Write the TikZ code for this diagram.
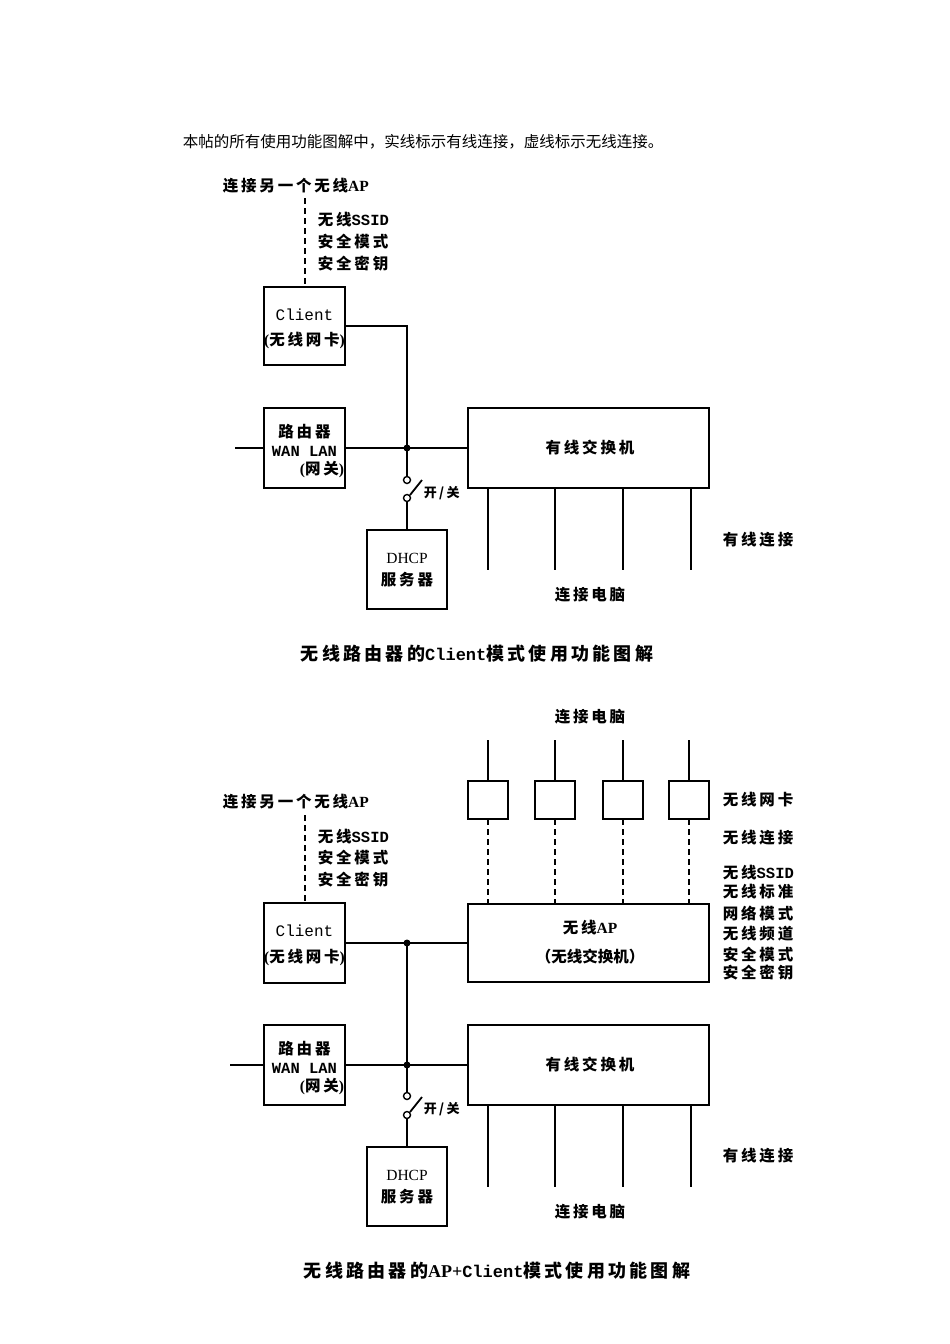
\documentclass[tikz,border=0pt]{standalone}
\usepackage{fontspec}
\newfontfamily\cjk[LetterSpace=18]{Noto Sans CJK SC}
\newfontfamily\cjkh{Noto Sans CJK SC}
\newfontfamily\mono{Liberation Mono}
\newfontfamily\tms{Liberation Serif}
\begin{document}
\begin{tikzpicture}[x=1pt,y=-1pt,line width=1.8pt,
  lbl/.style={inner sep=0pt, font=\cjk\bfseries\fontsize{15.5}{18}\selectfont},
  bx/.style={draw, inner sep=0pt, outer sep=0pt, line width=1.8pt},
  wl/.style={dash pattern=on 6pt off 4pt},
  dot/.style={circle, fill, inner sep=0pt, minimum size=7pt},
  sw/.style={circle, draw, inner sep=0pt, minimum size=7pt, line width=1.4pt}]
\useasboundingbox (0,0) rectangle (950,1344);
\fill[white] (0,0) rectangle (950,1344);

% header
\node[anchor=west, inner sep=0pt, font=\cjkh\fontsize{15.5}{18}\selectfont] (hdr) at (182,142) {本帖的所有使用功能图解中，实线标示有线连接，虚线标示无线连接。};

%================ top diagram ================
\node[lbl, anchor=west] (t1ap) at (222,186) {连接另一个无线{\tms\bfseries AP}};
\coordinate (t1d) at (305,198);
\node[lbl, anchor=west] (t1s1) at (317,220) {无线{\mono\bfseries SSID}};
\node[lbl, anchor=west] (t1s2) at (317,242) {安全模式};
\node[lbl, anchor=west] (t1s3) at (317,264) {安全密钥};

\node[bx, minimum width=81pt, minimum height=78pt] (t1cl) at (304.5,326) {};
\node[lbl] (t1clt) at (304.5,315) {\mono\mdseries\fontsize{16}{18}\selectfont Client};
\node[lbl] (t1clt2) at (304.5,340) {{\tms\bfseries (}无线网卡{\tms\bfseries )}};
\draw[wl] (t1d) -- (t1d |- t1cl.north);

\node[bx, minimum width=81pt, minimum height=80pt] (t1r) at (304.5,448) {};
\node[lbl] (t1rt1) at (304.5,432) {路由器};
\node[lbl] (t1rt2) at (304.5,451) {\mono\bfseries WAN LAN};
\node[lbl, anchor=east] (t1rt3) at (345,470) {{\tms\bfseries (}网关{\tms\bfseries )}};
\coordinate (t1w) at (235,448);

\node[bx, minimum width=241pt, minimum height=80pt] (t1sw) at (588.5,448) {};
\node[lbl] (t1swt) at (590,448) {有线交换机};

\node[dot] (t1j) at (407,448) {};
\node[sw] (t1c1) at (407,480) {};
\node[sw] (t1c2) at (407,498) {};
\coordinate (t1k) at (422,480);
\node[lbl, anchor=west, font=\cjk\bfseries\fontsize{13}{15}\selectfont] (t1kt) at (423,493) {开/关};

\node[bx, minimum width=80pt, minimum height=79pt] (t1dh) at (407,569.5) {};
\node[lbl] (t1dht1) at (407,558) {\tms\mdseries DHCP};
\node[lbl] (t1dht2) at (407,580) {服务器};

\draw (t1cl.east) -| (t1j.center);
\draw (t1w) -- (t1r.west);
\draw (t1r.east) -- (t1sw.west);
\draw (t1j.center) -- (t1c1.north);
\draw (t1c2.south) -- (t1dh.north);
\draw (t1c2.north east) -- (t1k);

\foreach \x [count=\i] in {488,555,623,691} {
  \coordinate (t1p\i) at (\x,570);
  \draw (t1p\i |- t1sw.south) -- (t1p\i);
}
\node[lbl, anchor=west] (t1wired) at (722,540) {有线连接};
\node[lbl] (t1pc) at (590,595) {连接电脑};

\node[lbl, font=\cjk\bfseries\fontsize{18}{20}\selectfont] (t1cap) at (477,654) {无线路由器的{\mono\bfseries\fontsize{17}{20}\selectfont Client}模式使用功能图解};

%================ bottom diagram ================
\node[lbl] (b1pc) at (590,717) {连接电脑};
\foreach \x [count=\i] in {488,555,623,689} {
  \node[bx, minimum width=40pt, minimum height=38pt] (b1n\i) at (\x,800) {};
  \coordinate (b1q\i) at (\x,740);
  \draw (b1q\i) -- (b1n\i.north);
}
\node[lbl, anchor=west] (b1nic) at (722,800) {无线网卡};
\node[lbl, anchor=west] (b1wl) at (722,838) {无线连接};

\node[bx, minimum width=241pt, minimum height=78pt] (b1ap) at (588.5,943) {};
\node[lbl] (b1apt1) at (590,928) {无线{\tms\bfseries AP}};
\node[lbl, font=\cjkh\bfseries\fontsize{15.5}{18}\selectfont] (b1apt2) at (590,957) {（无线交换机）};
\foreach \i in {1,2,3,4} {
  \draw[wl] (b1n\i.south) -- (b1n\i.south |- b1ap.north);
}
\node[lbl, anchor=west] (b1r1) at (722,873) {无线{\mono\bfseries SSID}};
\node[lbl, anchor=west] (b1r2) at (722,892) {无线标准};
\node[lbl, anchor=west] (b1r3) at (722,913) {网络模式};
\node[lbl, anchor=west] (b1r4) at (722,934) {无线频道};
\node[lbl, anchor=west] (b1r5) at (722,955) {安全模式};
\node[lbl, anchor=west] (b1r6) at (722,973) {安全密钥};

\node[lbl, anchor=west] (b1apx) at (222,802) {连接另一个无线{\tms\bfseries AP}};
\coordinate (b1d) at (305,815);
\node[lbl, anchor=west] (b1s1) at (317,837) {无线{\mono\bfseries SSID}};
\node[lbl, anchor=west] (b1s2) at (317,858) {安全模式};
\node[lbl, anchor=west] (b1s3) at (317,880) {安全密钥};

\node[bx, minimum width=81pt, minimum height=80pt] (b1cl) at (304.5,943) {};
\node[lbl] (b1clt) at (304.5,931) {\mono\mdseries\fontsize{16}{18}\selectfont Client};
\node[lbl] (b1clt2) at (304.5,957) {{\tms\bfseries (}无线网卡{\tms\bfseries )}};
\draw[wl] (b1d) -- (b1d |- b1cl.north);

\node[dot] (b1j1) at (407,943) {};
\draw (b1cl.east) -- (b1j1.center) -- (b1ap.west |- b1j1);

\node[bx, minimum width=81pt, minimum height=80pt] (b1r) at (304.5,1065) {};
\node[lbl] (b1rt1) at (304.5,1049) {路由器};
\node[lbl] (b1rt2) at (304.5,1068) {\mono\bfseries WAN LAN};
\node[lbl, anchor=east] (b1rt3) at (345,1087) {{\tms\bfseries (}网关{\tms\bfseries )}};
\coordinate (b1w) at (230,1065);

\node[bx, minimum width=241pt, minimum height=80pt] (b1sw) at (588.5,1065) {};
\node[lbl] (b1swt) at (590,1065) {有线交换机};

\node[dot] (b1j2) at (407,1065) {};
\node[sw] (b1c1) at (407,1096) {};
\node[sw] (b1c2) at (407,1115) {};
\coordinate (b1k) at (422,1097);
\node[lbl, anchor=west, font=\cjk\bfseries\fontsize{13}{15}\selectfont] (b1kt) at (423,1109) {开/关};

\node[bx, minimum width=80pt, minimum height=79pt] (b1dh) at (407,1186.5) {};
\node[lbl] (b1dht1) at (407,1175) {\tms\mdseries DHCP};
\node[lbl] (b1dht2) at (407,1197) {服务器};

\draw (b1j1.center) -- (b1j2.center);
\draw (b1w) -- (b1r.west);
\draw (b1r.east) -- (b1sw.west);
\draw (b1j2.center) -- (b1c1.north);
\draw (b1c2.south) -- (b1dh.north);
\draw (b1c2.north east) -- (b1k);

\foreach \x [count=\i] in {488,555,623,691} {
  \coordinate (b1p\i) at (\x,1187);
  \draw (b1p\i |- b1sw.south) -- (b1p\i);
}
\node[lbl, anchor=west] (b1wired) at (722,1156) {有线连接};
\node[lbl] (b1pc2) at (590,1212) {连接电脑};

\node[lbl, font=\cjk\bfseries\fontsize{18}{20}\selectfont] (b1cap) at (497,1271) {无线路由器的{\tms\bfseries\fontsize{18}{20}\selectfont AP+}{\mono\bfseries\fontsize{17}{20}\selectfont Client}模式使用功能图解};
\end{tikzpicture}
\end{document}
